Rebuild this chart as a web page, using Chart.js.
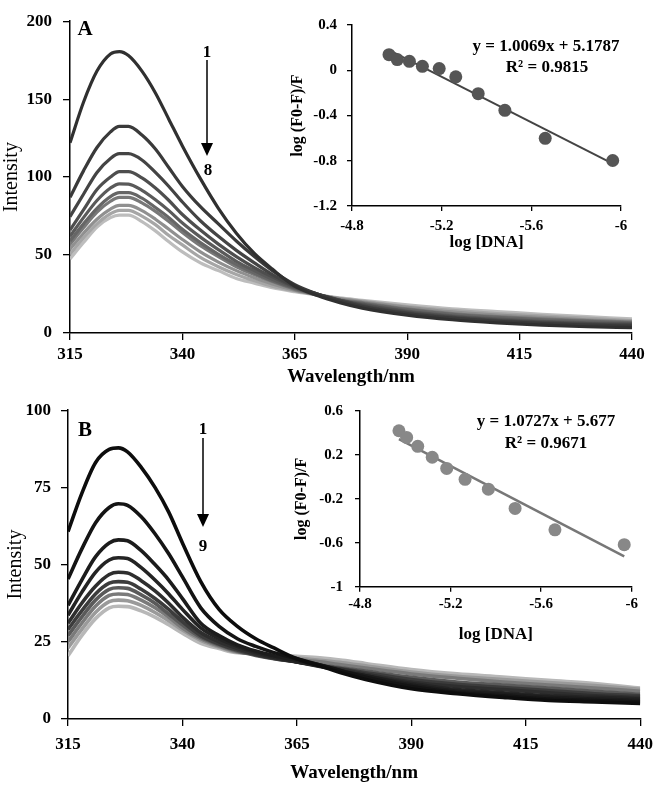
<!DOCTYPE html>
<html><head><meta charset="utf-8">
<script src="https://cdn.jsdelivr.net/npm/chart.js@4.4.1/dist/chart.umd.min.js"></script>
<style>
html,body{margin:0;padding:0;background:#fff;}
body{width:661px;height:786px;position:relative;overflow:hidden;font-family:'Liberation Serif','Times New Roman',serif;}
canvas{position:absolute;}
.t{position:absolute;font-weight:bold;color:#000;white-space:nowrap;transform:translate(-50%,-50%);line-height:1;}
svg{position:absolute;left:0;top:0;pointer-events:none;}
</style></head><body>
<canvas id="mainA" width="661" height="390" style="left:0;top:0"></canvas>
<canvas id="mainB" width="661" height="396" style="left:0;top:390px"></canvas>
<canvas id="insetA" width="381" height="255" style="left:280px;top:5px"></canvas>
<canvas id="insetB" width="381" height="260" style="left:280px;top:390px"></canvas>

<div class="t" style="left:85px;top:28px;font-size:21px">A</div>
<div class="t" style="left:207px;top:51px;font-size:17px">1</div>
<div class="t" style="left:208px;top:169px;font-size:17px">8</div>
<div class="t" style="left:546px;top:45px;font-size:17px">y = 1.0069x + 5.1787</div>
<div class="t" style="left:547px;top:66px;font-size:17px">R² = 0.9815</div>

<div class="t" style="left:85px;top:429px;font-size:21px">B</div>
<div class="t" style="left:203px;top:428px;font-size:17px">1</div>
<div class="t" style="left:203px;top:545px;font-size:17px">9</div>
<div class="t" style="left:546px;top:420px;font-size:17px">y = 1.0727x + 5.677</div>
<div class="t" style="left:546px;top:442px;font-size:17px">R² = 0.9671</div>

<svg width="661" height="786">
  <line x1="207" y1="60" x2="207" y2="146" stroke="#000" stroke-width="1.5"/>
  <polygon points="201,143 213,143 207,156" fill="#000"/>
  <line x1="203" y1="438" x2="203" y2="517" stroke="#000" stroke-width="1.5"/>
  <polygon points="197,514 209,514 203,527" fill="#000"/>
</svg>

<script>
// ---------- data ----------
const wavelengths = [315,318,321,324,326,328,331,334,337,340,344,348,352,356,360,365,370,375,380,390,400,410,420,430,440];

// Panel A spectra (curves 1..10)
const specA1  = [122,148,168,179,180.5,178,168,154,137,120,99,80,64,51,41,30,24,19.5,16,11.5,8.5,6.5,5,4,3.5];
const specA2  = [87,104,119,129,132.5,132.5,127,118,106,94,81,70,59,49,40,31,25,20.5,17,12.5,9.5,7.5,6,5,4.5];
const specA3  = [74.6,89,103,112,115,115,111,103,94,84,72,62,53,45,37.5,30,25,21,17.5,13,10,8,6.5,5.5,5];
const specA4  = [66,79,92,100,103.5,103.5,99.5,93,85,76,66,57,49,42,36,29.5,25,21,18,13.5,10.5,8.5,7,6,5.5];
const specA5  = [62,74,85,93,95.7,95.5,91.5,85.5,78.5,70.5,61.5,53.5,46,40,34.5,29,24.5,21,18.5,14,11,9,7.5,6.5,6];
const specA6  = [59,70,80,87.5,90,90,86.5,80.5,74,66.5,58,50.5,44,38.5,33.5,28.5,24.5,21,19,15,12,10,8.5,7.5,6.5];
const specA7  = [57,67.5,77.5,84.5,87,87,83.5,78,71.5,64.5,56,49,42.5,37.5,33,28,24.5,21.5,19.5,15.5,12.5,10.5,9,8,7];
const specA8  = [53.8,64,73,79.5,81.8,81.8,78.5,73,66.5,60,52,45.5,40,35.5,31.5,27.5,24.5,22,20,16.5,13.5,11.5,10,8.5,7.5];
const specA9  = [50.5,61,70,76.5,78.7,78.7,75,69.5,62.5,56.5,48.5,42.5,37.5,33.5,30,27,24.5,22,20.5,17,14.5,12.5,11,9.5,8];
const specA10 = [47.5,58,68,74,75.6,75.6,71.5,65.5,58.5,52,45,40,35,32,29,26.5,24.5,22.5,21,18,15.5,13.8,12,10.5,9];

// Panel B spectra (curves 1..10)
const specB1  = [60.7,73,83,87.3,87.8,86.5,81.5,75,67,57,44.5,35.5,30,26,23,19.5,17.2,14.8,12.8,9.8,8.2,7,6,5.5,5];
const specB2  = [45.3,55,63.5,68.5,69.7,69.2,65.5,60,53.5,46,36,30,26,23.5,21.5,19.5,17.5,15.5,13.5,10.5,8.5,7.5,6.5,6,5.5];
const specB3  = [36.8,45,52.5,57,58,57.7,54.5,50,45,39,31,27,24,22,20.5,19,17.5,15.5,14,11,9,8,7,6.5,6];
const specB4  = [33.6,41,47.5,51.5,52.2,52,49,45,40.5,35.5,29.5,26,23.5,21.5,20,18.5,17,15.5,14,11.5,9.5,8.5,7.5,7,6.5];
const specB5  = [31,37.5,43,46.8,47.5,47.3,44.8,41.5,37.5,33,28,25,22.8,21,19.8,18.5,17.2,16,14.5,12,10.5,9.5,8.5,7.5,7];
const specB6  = [29,35,40.5,44,44.5,44.3,42,39,35.5,31.5,27,24.3,22.3,20.8,19.6,18.5,17.3,16.2,15,12.8,11.2,10.2,9.2,8.2,7.5];
const specB7  = [27,33,38.5,42,42.5,42.3,40.2,37.5,34,30.5,26.5,24,22,20.6,19.5,18.5,17.5,16.5,15.5,13.5,12,11,10,9,8];
const specB8  = [25,31,36.5,40,40.5,40.3,38.5,36,33,29.5,26,23.6,21.8,21,20.2,19.3,18.5,17.5,16.5,14.6,13.2,12,11,10,9];
const specB9  = [23,29,34.5,38,38.5,38.3,36.8,34.5,31.8,28.8,25.5,23.3,21.6,21.3,20.5,19.8,19,18.2,17.2,15.2,13.8,12.8,11.8,10.8,9.6];
const specB10 = [20.5,27,32.5,36,36.5,36.4,35,33,30.5,27.8,24.5,22.8,21.5,21.5,20.8,20.3,19.8,19,18,16,14.6,13.6,12.5,11.5,10];

// Insets: log[DNA] vs log(F0-F)/F
const logDNA_A = [-4.965,-5.002,-5.056,-5.114,-5.189,-5.263,-5.363,-5.482,-5.662,-5.963];
const logF_A   = [0.138,0.094,0.079,0.035,0.015,-0.058,-0.207,-0.354,-0.602,-0.798];
const fitX_A   = [-4.97,-5.963];
const fitY_A   = [0.174,-0.825];

const logDNA_B = [-4.972,-5.006,-5.055,-5.119,-5.183,-5.264,-5.367,-5.485,-5.661,-5.967];
const logF_B   = [0.42,0.359,0.278,0.179,0.077,-0.022,-0.112,-0.287,-0.482,-0.617];
const fitX_B   = [-4.972,-5.967];
const fitY_B   = [0.3435,-0.724];

// ---------- styling ----------
const greysA = ['#303030','#3a3a3a','#444444','#4e4e4e','#5a5a5a','#666666','#787878','#909090','#a6a6a6','#bdbdbd'];
const greysB = ['#0d0d0d','#141414','#1c1c1c','#242424','#2e2e2e','#3c3c3c','#5a5a5a','#7a7a7a','#9a9a9a','#b8b8b8'];

Chart.defaults.font.family = "'Liberation Serif','Times New Roman',serif";
Chart.defaults.color = '#000';

const seriesA = [specA1,specA2,specA3,specA4,specA5,specA6,specA7,specA8,specA9,specA10];
const seriesB = [specB1,specB2,specB3,specB4,specB5,specB6,specB7,specB8,specB9,specB10];

function toXY(xs, ys){ return xs.map((x,i)=>({x:x,y:ys[i]})); }

function gridOpts(tl){ return {drawOnChartArea:false,drawTicks:true,tickLength:tl,color:'#000',lineWidth:1.3}; }
const borderOpts = {display:true,color:'#000',width:1.5};
const fmt = v => String(Number(Number(v).toFixed(2)));

function mainChart(id, series, greys, lw, yMax, yStep, cfg){
  return new Chart(document.getElementById(id), {
    type:'line',
    data:{datasets: series.map((vals,i)=>({
      data: toXY(wavelengths, vals),
      borderColor: greys[i], borderWidth: lw, pointRadius:0,
      cubicInterpolationMode:'monotone', fill:false
    }))},
    options:{
      responsive:false, animation:false, events:[],
      layout:{padding:{left:0,top:cfg.top,right:cfg.right,bottom:0}},
      plugins:{legend:{display:false},tooltip:{enabled:false}},
      scales:{
        x:{type:'linear',min:315,max:440,
           afterFit:s=>{s.height=cfg.xh;},
           ticks:{stepSize:25,font:{size:17,weight:'bold'},padding:cfg.xpad,maxRotation:0,autoSkip:false},
           grid:gridOpts(7), border:borderOpts,
           title:{display:true,text:'Wavelength/nm',font:{size:19,weight:'bold'},padding:{top:0,bottom:cfg.tpb}}},
        y:{type:'linear',min:0,max:yMax,
           afterFit:s=>{s.width=cfg.yw;},
           ticks:{stepSize:yStep,font:{size:17,weight:'bold'},padding:cfg.ypad},
           grid:gridOpts(7), border:borderOpts,
           title:{display:true,text:'Intensity',font:{size:20},padding:{top:cfg.ytp,bottom:0}}}
      }
    }
  });
}

mainChart('mainA', seriesA, greysA, 3.2, 200, 50, {top:12,right:29,xh:57,xpad:4,tpb:2,yw:70,ypad:11,ytp:0});
mainChart('mainB', seriesB, greysB, 3.6, 100, 25, {top:15,right:14,xh:67,xpad:8,tpb:2,yw:68,ypad:10,ytp:4});

function insetChart(id, xs, ys, fx, fy, ptColor, lineColor, lineW, yMin, yMax, cfg){
  return new Chart(document.getElementById(id), {
    type:'scatter',
    data:{datasets:[
      {data: toXY(xs, ys), pointRadius:6.5, pointBackgroundColor:ptColor, pointBorderWidth:0, showLine:false},
      {data: toXY(fx, fy), showLine:true, pointRadius:0, borderColor:lineColor, borderWidth:lineW}
    ]},
    options:{
      responsive:false, animation:false, events:[],
      layout:{padding:{left:0,top:cfg.top,right:cfg.right,bottom:0}},
      plugins:{legend:{display:false},tooltip:{enabled:false}},
      scales:{
        x:{type:'linear',min:-6,max:-4.8,reverse:true,
           afterFit:s=>{s.height=cfg.xh;},
           ticks:{stepSize:0.4,font:{size:15,weight:'bold'},padding:cfg.xpad,maxRotation:0,autoSkip:false,callback:fmt},
           grid:gridOpts(5), border:borderOpts,
           title:{display:true,text:'log [DNA]',font:{size:17,weight:'bold'},padding:{top:0,bottom:cfg.tpb}}},
        y:{type:'linear',min:yMin,max:yMax,
           afterFit:s=>{s.width=cfg.yw;},
           ticks:{stepSize:0.4,font:{size:15,weight:'bold'},padding:cfg.ypad,callback:fmt},
           grid:gridOpts(5), border:borderOpts,
           title:{display:true,text:'log (F0-F)/F',font:{size:16,weight:'bold'},padding:{top:cfg.ytp,bottom:0}}}
      }
    }
  });
}

insetChart('insetA', logDNA_A, logF_A, fitX_A, fitY_A, '#555555', '#444444', 2, -1.2, 0.4,
  {top:20,right:40,xh:54,xpad:6,tpb:6.8,yw:72,ypad:10,ytp:8.4});
insetChart('insetB', logDNA_B, logF_B, fitX_B, fitY_B, '#888888', '#777777', 2.5, -1, 0.6,
  {top:19.3,right:29.3,xh:63.3,xpad:3,tpb:4.8,yw:80,ypad:12,ytp:12});
</script>
</body></html>
